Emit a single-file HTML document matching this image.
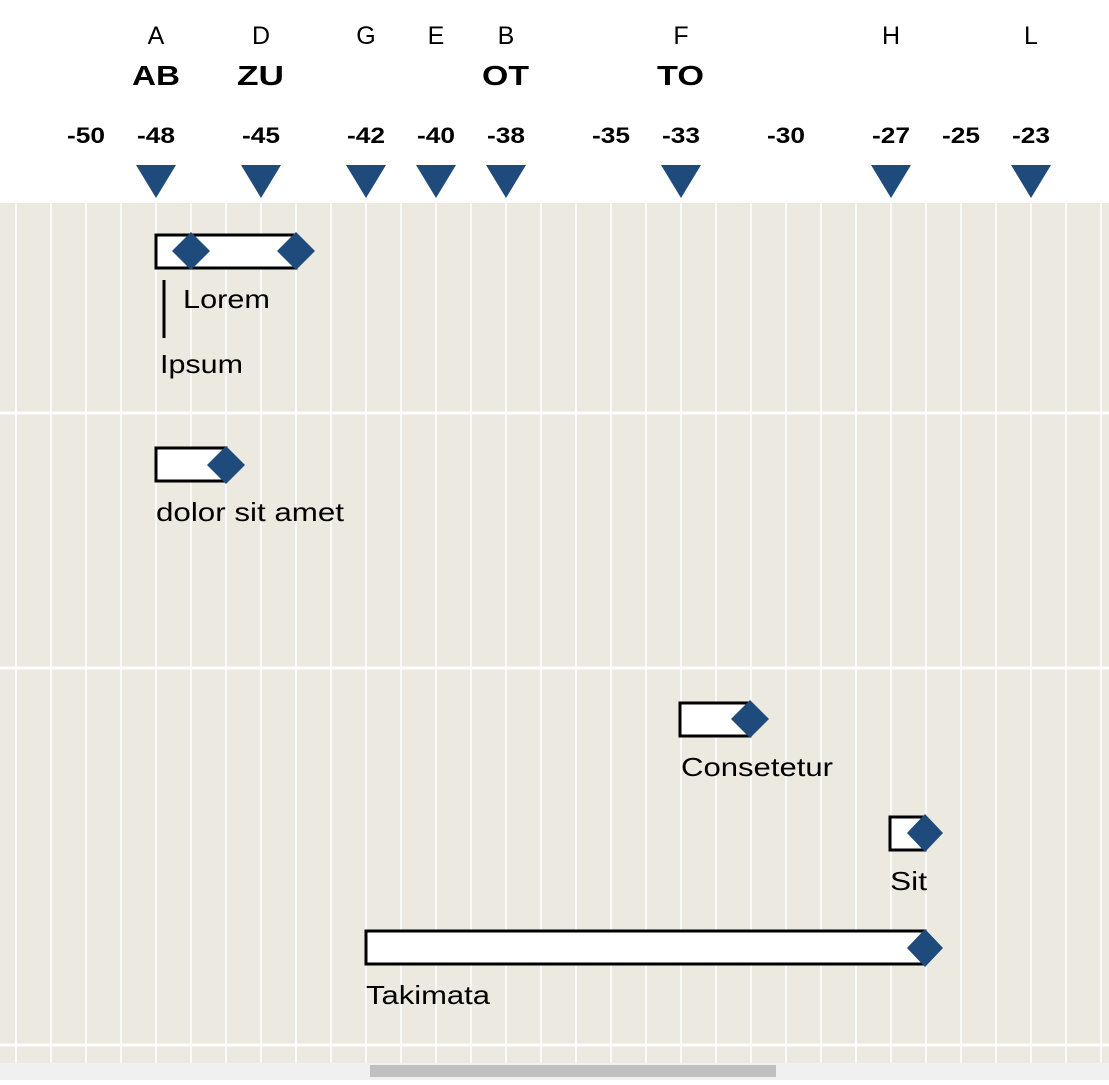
<!DOCTYPE html>
<html><head><style>
body{margin:0;width:1109px;height:1080px;overflow:hidden;background:#fff;font-family:"Liberation Sans",Arial,sans-serif;}
</style></head><body>
<svg width="1109" height="1080" xmlns="http://www.w3.org/2000/svg" font-family="Liberation Sans, Arial, sans-serif">
<rect x="0" y="203" width="1109" height="860" fill="#eceae0"/>
<g stroke="#fff" stroke-width="1.5">
<line x1="16" y1="203" x2="16" y2="1063"/><line x1="51" y1="203" x2="51" y2="1063"/><line x1="86" y1="203" x2="86" y2="1063"/><line x1="121" y1="203" x2="121" y2="1063"/><line x1="156" y1="203" x2="156" y2="1063"/><line x1="191" y1="203" x2="191" y2="1063"/><line x1="226" y1="203" x2="226" y2="1063"/><line x1="261" y1="203" x2="261" y2="1063"/><line x1="296" y1="203" x2="296" y2="1063"/><line x1="331" y1="203" x2="331" y2="1063"/><line x1="366" y1="203" x2="366" y2="1063"/><line x1="401" y1="203" x2="401" y2="1063"/><line x1="436" y1="203" x2="436" y2="1063"/><line x1="471" y1="203" x2="471" y2="1063"/><line x1="506" y1="203" x2="506" y2="1063"/><line x1="541" y1="203" x2="541" y2="1063"/><line x1="576" y1="203" x2="576" y2="1063"/><line x1="611" y1="203" x2="611" y2="1063"/><line x1="646" y1="203" x2="646" y2="1063"/><line x1="681" y1="203" x2="681" y2="1063"/><line x1="716" y1="203" x2="716" y2="1063"/><line x1="751" y1="203" x2="751" y2="1063"/><line x1="786" y1="203" x2="786" y2="1063"/><line x1="821" y1="203" x2="821" y2="1063"/><line x1="856" y1="203" x2="856" y2="1063"/><line x1="891" y1="203" x2="891" y2="1063"/><line x1="926" y1="203" x2="926" y2="1063"/><line x1="961" y1="203" x2="961" y2="1063"/><line x1="996" y1="203" x2="996" y2="1063"/><line x1="1031" y1="203" x2="1031" y2="1063"/><line x1="1066" y1="203" x2="1066" y2="1063"/><line x1="1101" y1="203" x2="1101" y2="1063"/>
</g>
<g stroke="#fff" stroke-width="3">
<line x1="0" y1="413" x2="1109" y2="413"/><line x1="0" y1="668" x2="1109" y2="668"/><line x1="0" y1="1045" x2="1109" y2="1045"/>
</g>
<rect x="0" y="1063" width="1109" height="17" fill="#f0f0f0"/>
<rect x="370" y="1065" width="406" height="12" fill="#c0c0c0"/>
<g font-size="25" text-anchor="middle" fill="#000">
<text x="156" y="44">A</text><text x="261" y="44">D</text><text x="366" y="44">G</text><text x="436" y="44">E</text><text x="506" y="44">B</text><text x="681" y="44">F</text><text x="891" y="44">H</text><text x="1031" y="44">L</text>
</g>
<g font-size="28" font-weight="bold" fill="#000">
<text x="132" y="85" textLength="48" lengthAdjust="spacingAndGlyphs">AB</text>
<text x="237" y="85" textLength="47" lengthAdjust="spacingAndGlyphs">ZU</text>
<text x="482" y="85" textLength="47" lengthAdjust="spacingAndGlyphs">OT</text>
<text x="657" y="85" textLength="47" lengthAdjust="spacingAndGlyphs">TO</text>
</g>
<g font-size="22" font-weight="bold" fill="#000">
<text x="67" y="143" textLength="38" lengthAdjust="spacingAndGlyphs">-50</text><text x="137" y="143" textLength="38" lengthAdjust="spacingAndGlyphs">-48</text><text x="242" y="143" textLength="38" lengthAdjust="spacingAndGlyphs">-45</text><text x="347" y="143" textLength="38" lengthAdjust="spacingAndGlyphs">-42</text><text x="417" y="143" textLength="38" lengthAdjust="spacingAndGlyphs">-40</text><text x="487" y="143" textLength="38" lengthAdjust="spacingAndGlyphs">-38</text><text x="592" y="143" textLength="38" lengthAdjust="spacingAndGlyphs">-35</text><text x="662" y="143" textLength="38" lengthAdjust="spacingAndGlyphs">-33</text><text x="767" y="143" textLength="38" lengthAdjust="spacingAndGlyphs">-30</text><text x="872" y="143" textLength="38" lengthAdjust="spacingAndGlyphs">-27</text><text x="942" y="143" textLength="38" lengthAdjust="spacingAndGlyphs">-25</text><text x="1012" y="143" textLength="38" lengthAdjust="spacingAndGlyphs">-23</text>
</g>
<g fill="#1f4a7c">
<polygon points="136,165 176,165 156,198"/><polygon points="241,165 281,165 261,198"/><polygon points="346,165 386,165 366,198"/><polygon points="416,165 456,165 436,198"/><polygon points="486,165 526,165 506,198"/><polygon points="661,165 701,165 681,198"/><polygon points="871,165 911,165 891,198"/><polygon points="1011,165 1051,165 1031,198"/>
</g>
<g fill="#fff" stroke="#000" stroke-width="3">
<rect x="156" y="235" width="140" height="33"/>
<rect x="156" y="448" width="70" height="33"/>
<rect x="680" y="703" width="70" height="33"/>
<rect x="890" y="817" width="35" height="33"/>
<rect x="366" y="931" width="559" height="33"/>
</g>
<g fill="#1f4a7c">
<polygon points="191,232 210,251 191,270 172,251"/>
<polygon points="296,232 315,251 296,270 277,251"/>
<polygon points="226,446 245,465 226,484 207,465"/>
<polygon points="750,700 769,719 750,738 731,719"/>
<polygon points="925,814 943,833 925,852 907,833"/>
<polygon points="925,929 943,948 925,967 907,948"/>
</g>
<line x1="164" y1="280" x2="164" y2="338" stroke="#000" stroke-width="3"/>
<g font-size="26" fill="#000">
<text x="183" y="308" textLength="87" lengthAdjust="spacingAndGlyphs">Lorem</text>
<text x="160" y="373" textLength="83" lengthAdjust="spacingAndGlyphs">Ipsum</text>
<text x="156" y="521" textLength="188" lengthAdjust="spacingAndGlyphs">dolor sit amet</text>
<text x="681" y="776" textLength="152" lengthAdjust="spacingAndGlyphs">Consetetur</text>
<text x="890" y="890" textLength="37" lengthAdjust="spacingAndGlyphs">Sit</text>
<text x="366" y="1004" textLength="124" lengthAdjust="spacingAndGlyphs">Takimata</text>
</g>
</svg>
</body></html>
